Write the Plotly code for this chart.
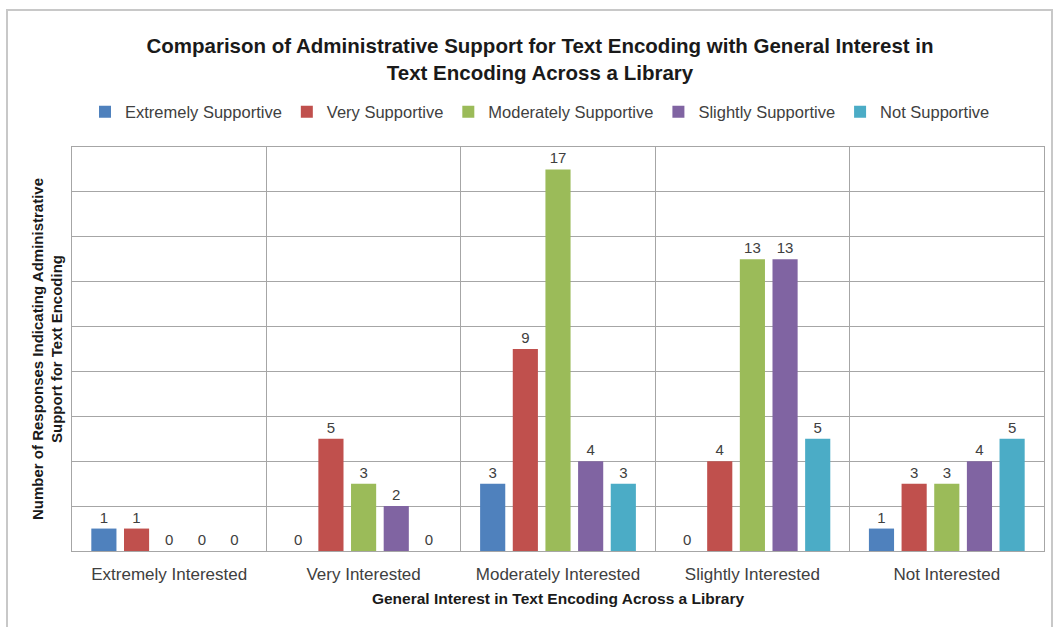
import plotly.graph_objects as go

categories = ["Extremely Interested", "Very Interested", "Moderately Interested",
              "Slightly Interested", "Not Interested"]
series_names = ["Extremely Supportive", "Very Supportive", "Moderately Supportive",
                "Slightly Supportive", "Not Supportive"]
extremely_supportive = [1, 0, 3, 0, 1]
very_supportive = [1, 5, 9, 4, 3]
moderately_supportive = [0, 3, 17, 13, 3]
slightly_supportive = [0, 2, 4, 13, 4]
not_supportive = [0, 0, 3, 5, 5]
series_values = [extremely_supportive, very_supportive, moderately_supportive,
                 slightly_supportive, not_supportive]
colors = ["#4F81BD", "#C0504D", "#9BBB59", "#8064A2", "#4BACC6"]

FONT = "Liberation Sans, Arial, sans-serif"

fig = go.Figure()
for name, vals, col in zip(series_names, series_values, colors):
    fig.add_trace(go.Bar(
        name=name, x=categories, y=vals,
        marker=dict(color=col, line=dict(width=0)),
        text=[str(v) for v in vals], textposition="outside",
        textfont=dict(size=15, color="#404040", family=FONT),
        cliponaxis=False,
    ))

L, R, T, B = 72, 13, 147, 76
W, H = 1057, 627
pw, ph = W - L - R, H - T - B

def px_to_paper_x(px):
    return (px - L) / pw

def px_to_paper_y(py):
    return (H - B - py) / ph

fig.update_layout(
    width=W, height=H,
    margin=dict(l=L, r=R, t=T, b=B, pad=0),
    paper_bgcolor="white", plot_bgcolor="white",
    barmode="group", bargap=0.16, bargroupgap=0.23,
    font=dict(family=FONT, color="#404040"),
    title=dict(
        text="Comparison of Administrative Support for Text Encoding with General Interest in<br>Text Encoding Across a Library",
        x=540 / W, xref="container", xanchor="center",
        y=1 - 53 / H, yref="container", yanchor="middle",
        font=dict(size=20.5, color="#1a1a1a", family=FONT, weight="bold"),
    ),
    legend=dict(
        orientation="h", x=px_to_paper_x(540), xanchor="center", xref="paper",
        y=px_to_paper_y(112), yanchor="middle",
        font=dict(size=16.5, color="#404040", family=FONT),
        itemwidth=30, traceorder="normal", bgcolor="rgba(0,0,0,0)",
    ),
    showlegend=True,
    xaxis=dict(
        type="category", tickson="boundaries",
        showgrid=True, gridcolor="#a6a6a6", gridwidth=1,
        showline=True, linecolor="#a6a6a6", linewidth=1, mirror=True,
        ticks="", tickfont=dict(size=17, color="#404040", family=FONT),
        ticklabelstandoff=8,
        title=dict(text="<b>General Interest in Text Encoding Across a Library</b>",
                   font=dict(size=15.5, color="#1a1a1a", family=FONT), standoff=9),
        fixedrange=True,
    ),
    yaxis=dict(
        range=[0, 18], dtick=2, showticklabels=False, ticks="",
        showgrid=True, gridcolor="#a6a6a6", gridwidth=1, zeroline=False,
        showline=True, linecolor="#a6a6a6", linewidth=1, mirror=True,
        title=dict(text="<b>Number of Responses Indicating Administrative<br>Support for Text Encoding</b>",
                   font=dict(size=15, color="#1a1a1a", family=FONT), standoff=4),
    ),
    shapes=[dict(
        type="rect", xref="paper", yref="paper", layer="below",
        x0=px_to_paper_x(7), x1=px_to_paper_x(1052),
        y0=px_to_paper_y(660), y1=px_to_paper_y(10),
        line=dict(color="#c8c8c8", width=2), fillcolor="rgba(0,0,0,0)",
    )],
)

fig.write_html("out.html")
